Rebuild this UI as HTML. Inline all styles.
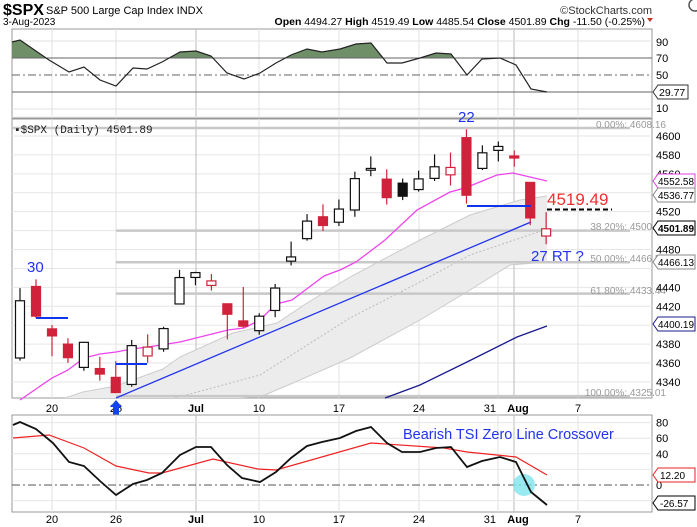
<!DOCTYPE html>
<html><head><meta charset="utf-8"><style>
body{margin:0;background:#fff;}
svg{display:block;font-family:"Liberation Sans",sans-serif;}
</style></head><body>
<svg id="s" width="697" height="527" xmlns="http://www.w3.org/2000/svg">
<rect width="697" height="527" fill="#fff"/>
<text x="3" y="15" font-size="16" font-weight="bold">$SPX</text>
<text x="46" y="14" font-size="11">S&amp;P 500 Large Cap Index  INDX</text>
<text x="3" y="25" font-size="10">3-Aug-2023</text>
<text x="652" y="14" font-size="11" text-anchor="end" fill="#333">©StockCharts.com</text>
<text x="645" y="25" font-size="10.5" text-anchor="end"><tspan font-weight="bold">Open</tspan> 4494.27 <tspan font-weight="bold">High</tspan> 4519.49 <tspan font-weight="bold">Low</tspan> 4485.54 <tspan font-weight="bold">Close</tspan> 4501.89 <tspan font-weight="bold">Chg</tspan> -11.50 (-0.25%)</text>
<path d="M647 18 L653 18 L650 22 Z" fill="#c0392b"/>
<circle cx="695" cy="5" r="6" fill="none" stroke="#555" stroke-width="1.5"/>
<g id="g"></g>
</svg>
<script>
const NS="http://www.w3.org/2000/svg",g=document.getElementById('g');
function el(t,a,txt){const e=document.createElementNS(NS,t);for(const k in a)e.setAttribute(k,a[k]);if(txt!=null)e.textContent=txt;g.appendChild(e);return e;}
const L=12,R=652;
const dx=[52,116,196,259,339,419,498,514,578],dl=['20','26','Jul','10','17','24','31','Aug','7'];
function vgrid(y1,y2){dx.forEach((x,i)=>el('line',{x1:x,x2:x,y1:y1,y2:y2,stroke:(i==2||i==7)?'#bbb':'#e2e2e2','stroke-width':1}));}
const ry=v=>58+(70-v)*0.85;
el('rect',{x:L,y:29,width:R-L,height:89,fill:'#fff',stroke:'#999'});
vgrid(29,118);
[90,10].forEach(v=>el('line',{x1:L,x2:R,y1:ry(v),y2:ry(v),stroke:'#e2e2e2'}));
const rsi=[[12,42],[20,40],[49,60],[69,72],[84,67],[100,80],[116,86],[133,68],[147,69],[162,62],[180,52],[196,51],[211,56],[227,73],[244,79],[260,73],[276,63],[291,55],[307,49],[322,52],[340,49],[356,44],[371,43],[387,63],[402,63],[420,58],[436,53],[451,54],[467,75],[482,59],[500,58],[516,65],[531,89],[547,92]];
const cp=el('clipPath',{id:'c70'});const cr=document.createElementNS(NS,'rect');cr.setAttribute('x',0);cr.setAttribute('y',0);cr.setAttribute('width',697);cr.setAttribute('height',58);cp.appendChild(cr);
el('polygon',{points:'12,58 '+rsi.map(p=>p.join(',')).join(' ')+' 547,58',fill:'#6f8f68','clip-path':'url(#c70)'});
el('line',{x1:L,x2:R,y1:58,y2:58,stroke:'#666'});
el('line',{x1:L,x2:R,y1:75,y2:75,stroke:'#666','stroke-dasharray':'8,3,2,3'});
el('line',{x1:L,x2:R,y1:92,y2:92,stroke:'#666'});
el('polyline',{points:rsi.map(p=>p.join(',')).join(' '),fill:'none',stroke:'#222','stroke-width':1.2});
[[90,42],[70,58],[50,75],[10,108]].forEach(a=>el('text',{x:656,y:a[1]+4,'font-size':11},a[0]));
el('path',{d:'M653 92 L658 85 L688 85 L688 99 L658 99 Z',fill:'#fff',stroke:'#333'});
el('text',{x:659,y:96,'font-size':10.5},'29.77');
const py=p=>136+(4600-p)*0.946;
el('rect',{x:L,y:119,width:R-L,height:279,fill:'#fff',stroke:'#999'});
for(let p=4340;p<=4620;p+=20)el('line',{x1:L,x2:R,y1:py(p),y2:py(p),stroke:'#e6e6e6'});
vgrid(119,398);
const up=[[65,398],[83,392],[116,386],[163,369],[180,357],[233,333],[277,323],[307,303],[350,277],[420,240],[470,215],[520,200],[547,196]];
const lo=[[260,397],[293,383],[350,358],[420,320],[470,290],[510,265],[547,262]];
el('polygon',{points:up.map(p=>p.join(',')).join(' ')+' '+lo.slice().reverse().map(p=>p.join(',')).join(' ')+' 240,398',fill:'#ececec'});
el('polyline',{points:up.map(p=>p.join(',')).join(' '),fill:'none',stroke:'#ccc'});
el('polyline',{points:lo.map(p=>p.join(',')).join(' '),fill:'none',stroke:'#ccc'});
el('polyline',{points:'175,398 260,375 350,318 420,282 470,255 547,229',fill:'none',stroke:'#bbb','stroke-dasharray':'2,2'});
el('line',{x1:L,x2:630,y1:128,y2:128,stroke:'#c8c8c8','stroke-width':2.5});
[4500,4466.58,4433.4,4325.01].forEach(p=>el('line',{x1:116,x2:630,y1:py(p),y2:py(p),stroke:'#c8c8c8','stroke-width':2.5}));
[['0.00%: 4608.16',124],['38.20%: 4500.00',226],['50.00%: 4466.58',258],['61.80%: 4433.44',290],['100.00%: 4325.01',392]].forEach(a=>el('text',{x:666,y:a[1]+4,'font-size':10,fill:'#999','text-anchor':'end'},a[0]));
el('polyline',{points:'20,400 52,378 68,370 84,358 100,354 116,352 132,349 148,347 180,342 196,338 228,330 244,328 260,320 276,304 292,300 308,288 324,276 340,270 356,262 385,240 417,210 450,192 465,188 497,175 513,173 547,181',fill:'none',stroke:'#ee44ee','stroke-width':1.3});
el('polyline',{points:'385,398 420,385 467,362 517,337 547,326',fill:'none',stroke:'#1a1a8c','stroke-width':1.3});
el('line',{x1:116,y1:398,x2:531,y2:222,stroke:'#2233ee','stroke-width':1.3});
const d=[[4365.33,4439.2,4362.6,4425.84],[4440.95,4448.47,4407.44,4409.59],[4396.11,4400.15,4367.19,4388.71],[4380.01,4386.22,4360.14,4365.69],[4355.4,4382.25,4351.82,4381.89],[4354.17,4366.55,4341.34,4348.33],[4344.84,4362.06,4328.08,4328.82],[4337.36,4384.42,4335,4378.41],[4367.48,4390.35,4360.22,4376.86],[4374.94,4398.39,4371.97,4396.44],[4422.44,4458.48,4422.44,4450.38],[4450.48,4456.46,4442.29,4455.59],[4442.04,4454.06,4436.61,4446.82],[4422.62,4422.62,4385.05,4411.59],[4404.54,4440.39,4397.4,4398.95],[4394.23,4412.6,4389.92,4409.53],[4415.55,4443.64,4408.46,4439.26],[4467.69,4488.34,4463.23,4472.16],[4491.5,4517.38,4489.36,4510.04],[4514.61,4527.76,4499.56,4505.42],[4508.86,4532.85,4504.9,4522.79],[4521.78,4562.3,4514.59,4554.98],[4563.87,4578.43,4557.48,4565.72],[4554.38,4564.74,4527.56,4534.87],[4550.16,4555,4532.26,4536.34],[4543.39,4563.41,4541.29,4554.64],[4555.19,4580.62,4552.42,4567.46],[4558.96,4582.47,4547.58,4566.75],[4598.26,4607.07,4528.56,4537.41],[4565.75,4590.16,4564.01,4582.23],[4584.82,4594.22,4573.14,4588.96],[4578.83,4584.62,4567.53,4576.73],[4550.93,4550.93,4505.75,4513.39],[4494.27,4519.49,4485.54,4501.89]];
let prev=4372.59;
d.forEach((c,i)=>{const x=i<2?20+16*i:52+(i-2)*15.94;const[o,h,l,cl]=c;const col=cl<prev?'#d0223a':'#111';const fill=cl<o;
el('line',{x1:x,x2:x,y1:py(h),y2:py(l),stroke:col,'stroke-width':1.2});
const t=py(Math.max(o,cl)),b=py(Math.min(o,cl));
el('rect',{x:x-4.5,y:t,width:9,height:Math.max(b-t,1),fill:fill?col:'#fff',stroke:col,'stroke-width':1.2});prev=cl;});
el('line',{x1:36,x2:68,y1:318,y2:318,stroke:'#1133ee','stroke-width':2});
el('line',{x1:116,x2:147,y1:364,y2:364,stroke:'#1133ee','stroke-width':2});
el('line',{x1:467,x2:531,y1:206,y2:206,stroke:'#1133ee','stroke-width':2});
el('line',{x1:547,x2:612,y1:209.5,y2:209.5,stroke:'#000','stroke-width':2,'stroke-dasharray':'5,3'});
el('text',{x:547,y:205,'font-size':17,fill:'#f03030'},'4519.49');
el('text',{x:27,y:272,'font-size':15,fill:'#2233ee'},'30');
el('text',{x:458,y:122,'font-size':15,fill:'#2233ee'},'22');
el('text',{x:531,y:261,'font-size':15,fill:'#2233ee'},'27 RT ?');
el('text',{x:14,y:133,'font-size':11,'font-family':'Liberation Mono, monospace',fill:'#222'},'▪$SPX (Daily) 4501.89');
[4600,4580,4560,4520,4480,4440,4420,4380,4360,4340].forEach(p=>el('text',{x:656,y:py(p)+4,'font-size':11},p));
function tag(y,t,col,bold){el('path',{d:`M653 ${y} L658 ${y-7} L695 ${y-7} L695 ${y+7} L658 ${y+7} Z`,fill:'#fff',stroke:col});const a={x:658,y:y+4,'font-size':10,'font-weight':bold?'bold':'normal'};if(t.length>=7){a.textLength=36;a.lengthAdjust='spacingAndGlyphs';}else a.x=660;el('text',a,t);}
tag(181,'4552.58','#e040e0');tag(195,'4536.77','#888');tag(228,'4501.89','#000',1);tag(262,'4466.13','#888');tag(324,'4400.19','#1a1a8c');
function dates(y){dx.forEach((x,i)=>el('text',{x:i==6?x-2:(i==7?x+4:x),y:y,'font-size':11,'text-anchor':i==6?'end':'middle','font-weight':(i==2||i==7)?'bold':'normal'},dl[i]));}
dates(412);
el('path',{d:'M116 400 L122 407 L119 407 L119 417 L113 417 L113 407 L110 407 Z',fill:'#1144ee'});
el('text',{x:100,y:441,'font-size':15,fill:'#2233ee'},'35 RT');
const ty=v=>485-v*0.78;
el('rect',{x:L,y:415,width:R-L,height:97,fill:'#fff',stroke:'#999'});
vgrid(415,512);
[80,60,40,20,-20].forEach(v=>el('line',{x1:L,x2:R,y1:ty(v),y2:ty(v),stroke:'#e6e6e6'}));
el('line',{x1:L,x2:R,y1:485,y2:485,stroke:'#555','stroke-dasharray':'8,3,2,3'});
el('circle',{cx:524,cy:485,r:11,fill:'#7fe3ee',opacity:0.8});
el('polyline',{points:'13,438 49,435 84,448 116,466 149,473 162,473 213,459 258,469 276,470 371,443 444,448 467,452 516,457 547,475',fill:'none',stroke:'#ee2222','stroke-width':1.2});
el('polyline',{points:'13,425 20,422 36,429 53,443 69,462 84,466 100,481 116,495 133,484 147,480 162,473 180,455 196,447 211,447 227,465 242,478 260,482 276,472 291,458 307,446 322,442 340,438 356,431 371,427 387,443 402,452 420,452 436,448 451,447 467,467 482,461 500,457 516,462 531,492 547,505',fill:'none',stroke:'#111','stroke-width':1.8});
el('text',{x:403,y:439,'font-size':14.5,fill:'#2233ee'},'Bearish TSI Zero Line Crossover');
[[80,'80'],[60,'60'],[40,'40'],[0,'0'],[-20,'-20']].forEach(a=>el('text',{x:656,y:ty(a[0])+4,'font-size':11},a[1]));
tag(475,'12.20','#ee2222');tag(503,'-26.57','#000');
dates(523);
</script>
</body></html>
